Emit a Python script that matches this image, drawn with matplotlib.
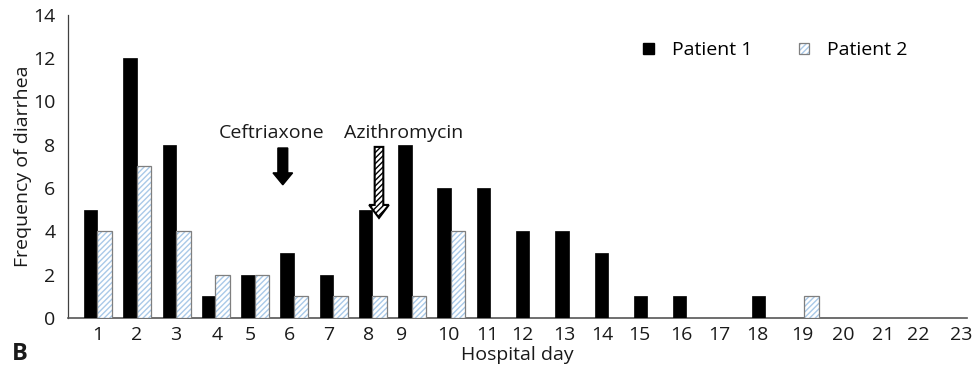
import matplotlib
matplotlib.use("Agg")
import matplotlib.pyplot as plt
from matplotlib.patches import Patch, FancyArrow
import numpy as np

plt.rcParams['font.family'] = ['Open Sans', 'DejaVu Sans']

days = list(range(1, 24))
patient1 = [5, 12, 8, 1, 2, 3, 2, 5, 8, 6, 6, 4, 4, 3, 1, 1, 0, 1, 0, 0, 0, 0, 0]
patient2 = [4, 7, 4, 2, 2, 1, 1, 1, 1, 4, 0, 0, 0, 0, 0, 0, 0, 0, 1, 0, 0, 0, 0]
tick_labels = [str(d) for d in days]
# label nudges (layout only), in category units
label_shift = [0, 0, 0, 0.04, -0.12, -0.12, -0.1, -0.09, -0.25, -0.07, -0.08, -0.19,
               -0.1, -0.15, -0.21, -0.12, -0.15, -0.2, -0.06, 0, 0, -0.1, 0]

FS = 14
fig = plt.figure(figsize=(9.72, 3.71), dpi=100)
ax = fig.add_axes([0.070, 0.143, 0.925, 0.817])

x = np.array(days, dtype=float)
w1, w2 = 0.34, 0.37
ax.bar(x - w1, patient1, width=w1, align='edge', color='black', edgecolor='black', linewidth=0.5, zorder=3)
p2col = '#a9c9e8'
ax.bar(x, patient2, width=w2, align='edge', color='white', edgecolor=p2col, hatch='//////', linewidth=0, zorder=3)
ax.bar(x, patient2, width=w2, align='edge', fill=False, edgecolor='#7f7f7f', linewidth=0.9, zorder=4)

ax.set_xlim(0.25, 23.15)
ax.set_ylim(0, 14)
ax.set_yticks(range(0, 15, 2))
ax.set_xticks(x + np.array(label_shift))
ax.set_xticklabels(tick_labels)
ax.tick_params(axis='both', length=0, labelsize=FS, colors='#1a1a1a')
ax.tick_params(axis='x', pad=6)
ax.tick_params(axis='y', pad=9)
for s in ['top', 'right']:
    ax.spines[s].set_visible(False)
ax.spines['left'].set_color('#404040')
ax.spines['bottom'].set_color('#555555')
ax.spines['left'].set_linewidth(0.9)
ax.spines['bottom'].set_linewidth(1.2)

ax.set_xlabel('Hospital day', fontsize=FS, labelpad=1, color='#1a1a1a')
ax.set_ylabel('Frequency of diarrhea', fontsize=FS, labelpad=1, color='#1a1a1a')

# Arrows
ax.text(5.44, 8.55, 'Ceftriaxone', ha='center', va='center', fontsize=FS, color='#1a1a1a')
ax.add_patch(FancyArrow(5.72, 7.85, 0, -1.7, width=0.25, head_width=0.5, head_length=0.55,
                        length_includes_head=True, color='black', zorder=5))
ax.text(8.8, 8.55, 'Azithromycin', ha='center', va='center', fontsize=FS, color='#1a1a1a')
ax.add_patch(FancyArrow(8.17, 7.9, 0, -3.28, width=0.22, head_width=0.5, head_length=0.6,
                        length_includes_head=True, facecolor='white', edgecolor='black',
                        hatch='//////', linewidth=1.5, zorder=5))

handles = [Patch(facecolor='black', edgecolor='black'),
           (Patch(facecolor='white', edgecolor=p2col, hatch='//////', linewidth=0),
            Patch(fill=False, edgecolor='#7f7f7f', linewidth=0.9))]
leg = ax.legend(handles, ['Patient 1', 'Patient 2'], ncol=2, frameon=False,
                loc='upper right', bbox_to_anchor=(0.953, 0.97), fontsize=FS,
                handlelength=0.55, handleheight=0.55, columnspacing=2.4, handletextpad=0.9)

fig.text(0.012, 0.03, 'B', fontsize=17, fontweight='bold', color='#1a1a1a')

fig.savefig('out.png', dpi=100, facecolor='white')
